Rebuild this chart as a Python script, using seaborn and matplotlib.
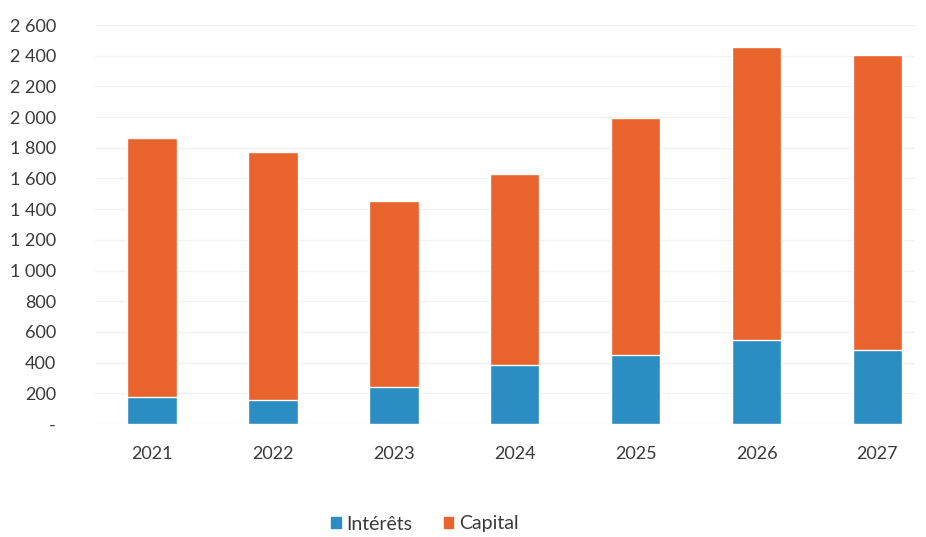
import numpy as np
import pandas as pd
import seaborn as sns
import matplotlib.pyplot as plt
from matplotlib.patches import Patch
from matplotlib.ticker import FuncFormatter

years = ["2021", "2022", "2023", "2024", "2025", "2026", "2027"]
interets = [178, 156, 243, 384, 450, 547, 482]
capital = [1684, 1614, 1212, 1245, 1542, 1911, 1922]

blue = "#2b8dc2"
orange = "#e9632d"

df = pd.DataFrame({"annee": years, "Intérêts": interets, "Capital": capital})
df["total"] = df["Intérêts"] + df["Capital"]

sns.set_style("white")
plt.rcParams["font.family"] = ["Lato", "DejaVu Sans"]

fig = plt.figure(figsize=(9.26, 5.37), dpi=100)
ax = fig.add_axes([95 / 926, 1 - 424 / 537, (915 - 95) / 926, (424 - 25) / 537])

# total first (orange), interest part drawn over it at the bottom
sns.barplot(data=df, x="annee", y="total", color=orange, width=0.41,
            saturation=1, ax=ax, zorder=2)
sns.barplot(data=df, x="annee", y="Intérêts", color=blue, width=0.41,
            saturation=1, ax=ax, zorder=3)

ax.set_xlim(-0.47, 6.31)
ax.set_ylim(0, 2600)
ax.set_yticks(np.arange(0, 2601, 200))
ax.yaxis.set_major_formatter(FuncFormatter(
    lambda v, p: "-" if v == 0 else f"{int(v):,}".replace(",", " ")))
ax.grid(axis="y", color="#f2f2f2", linewidth=1, zorder=0)
ax.set_axisbelow(True)
for s in ax.spines.values():
    s.set_visible(False)
ax.set_xlabel("")
ax.set_ylabel("")
ax.tick_params(axis="y", length=0, pad=28, labelsize=13, labelcolor="#3a3a3a")
ax.tick_params(axis="x", length=0, pad=16, labelsize=13, labelcolor="#3a3a3a")

handles = [Patch(color=blue, label="Intérêts"), Patch(color=orange, label="Capital")]
fig.legend(handles=handles, loc="center", bbox_to_anchor=(425 / 926, 1 - 524 / 537),
           ncol=2, frameon=False, fontsize=14, handlelength=0.5, handleheight=0.5,
           handletextpad=0.3, columnspacing=1.6, labelcolor="#3a3a3a")

fig.savefig("out.png", dpi=100)
